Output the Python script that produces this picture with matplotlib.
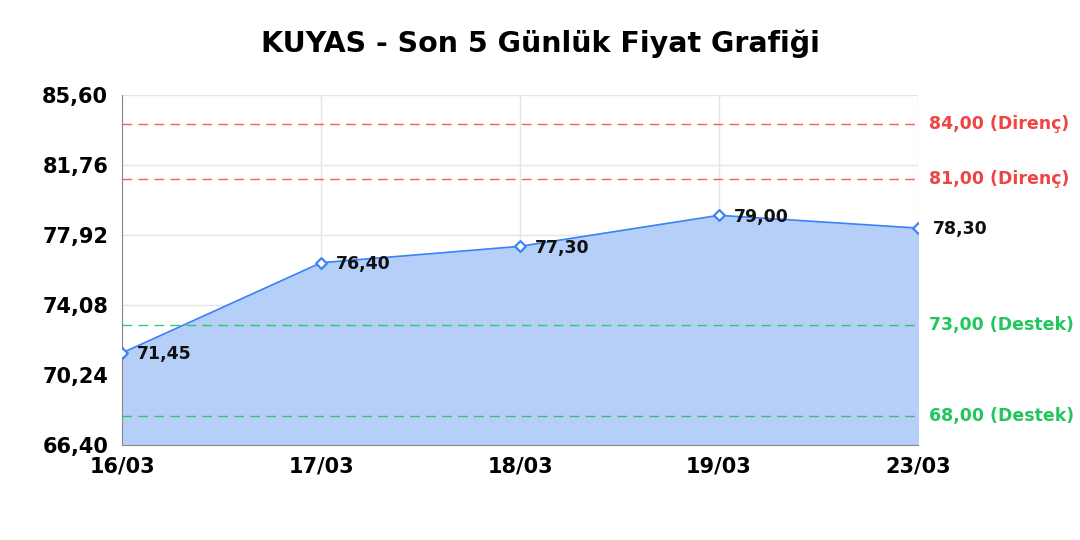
import matplotlib
matplotlib.use('Agg')
from matplotlib import pyplot, rc
from matplotlib.ticker import FixedLocator, FuncFormatter

rc('font', family='DejaVu Sans')

dates = ['16/03', '17/03', '18/03', '19/03', '23/03']
prices = [71.45, 76.40, 77.30, 79.00, 78.30]
resistance = [84.00, 81.00]
support = [73.00, 68.00]
y_ticks = [66.40, 70.24, 74.08, 77.92, 81.76, 85.60]

blue = '#3b82f6'
red = '#ef4444'
green = '#22c55e'


def comma(v, pos=None):
    return '{:.2f}'.format(v).replace('.', ',')


figure = pyplot.figure(figsize=(10.8, 5.4), dpi=100)
plot = figure.add_axes([0.113, 0.176, 0.737, 0.648])

x = list(range(len(dates)))
plot.fill_between(x, prices, y_ticks[0], color='#b6cff8', zorder=1)
plot.plot(x, prices, color=blue, lw=1.2, zorder=3)
plot.scatter(x, prices, marker='D', s=30, facecolor='white',
             edgecolor=blue, linewidth=1.6, zorder=4)

for xi, p in zip(x, prices):
    plot.annotate(comma(p), (xi, p), xytext=(11, -1), textcoords='offset points',
                  va='center', ha='left', fontsize=12.5, fontweight='bold',
                  color='#111111', zorder=5)

dash = (0, (7, 4.5))
for level in resistance:
    plot.axhline(level, color=red, lw=1, ls=dash, alpha=0.85, zorder=2)
    plot.text(1.014, level, comma(level) + ' (Direnç)', transform=plot.get_yaxis_transform(),
              color=red, fontsize=12.5, fontweight='bold', va='center', ha='left')
for level in support:
    plot.axhline(level, color=green, lw=1, ls=dash, alpha=0.9, zorder=2)
    plot.text(1.014, level, comma(level) + ' (Destek)', transform=plot.get_yaxis_transform(),
              color=green, fontsize=12.5, fontweight='bold', va='center', ha='left')

plot.set_xlim(0, len(dates) - 1)
plot.set_ylim(y_ticks[0], y_ticks[-1])
plot.set_xticks(x)
plot.set_xticklabels(dates)
plot.yaxis.set_major_locator(FixedLocator(y_ticks))
plot.yaxis.set_major_formatter(FuncFormatter(comma))
plot.grid(True, color='#e5e5e5', lw=1, zorder=0)
plot.set_axisbelow(True)
for side in ('top', 'right'):
    plot.spines[side].set_visible(False)
for side in ('left', 'bottom'):
    plot.spines[side].set_color('#888888')
plot.tick_params(length=0, labelsize=15)
plot.tick_params(axis='x', pad=8)
plot.tick_params(axis='y', pad=10)
for lbl in plot.get_xticklabels() + plot.get_yticklabels():
    lbl.set_fontweight('bold')

figure.suptitle('KUYAS - Son 5 Günlük Fiyat Grafiği', fontsize=20.5,
                fontweight='bold', y=0.945)
figure.savefig('out.png', dpi=100)
